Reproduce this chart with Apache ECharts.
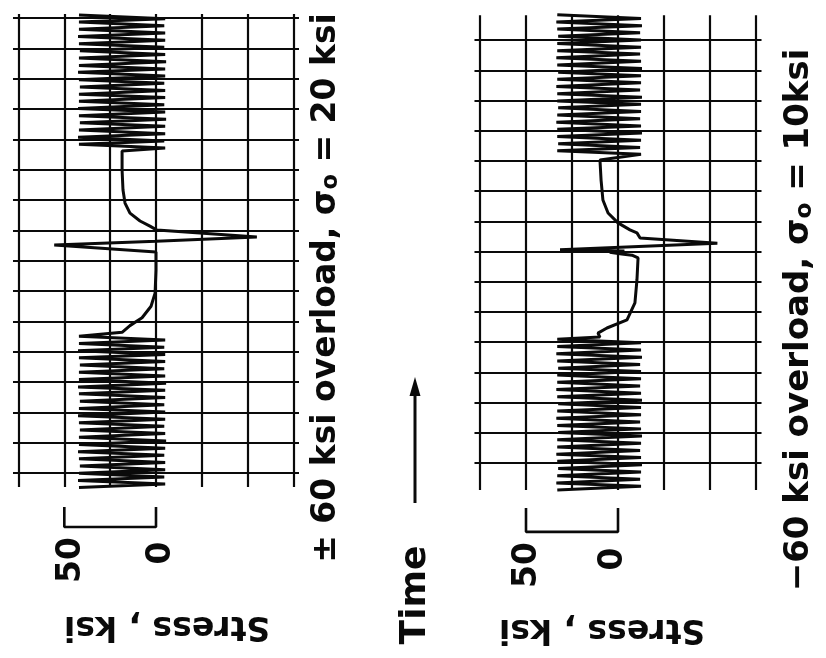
<!DOCTYPE html>
<html>
<head>
<meta charset="utf-8">
<title>Stress history, overload</title>
<script src="https://cdn.jsdelivr.net/npm/echarts@6/dist/echarts.min.js"></script>
<style>
  * { margin: 0; padding: 0; }
  body { background: #fff; }
  #chart { width: 826px; height: 658px; }
</style>
</head>
<body>
<div id="chart"></div>
<script>
// stress in ksi, time in chart divisions (counted upward)
const stressTicks = [-75, -50, -25, 0, 25, 50, 75];
const topRows = [0, 1, 2, 3, 4, 5, 6, 7, 8, 9, 10, 11, 12, 13, 14, 15];
const bottomRows = [0, 1, 2, 3, 4, 5, 6, 7, 8, 9, 10, 11, 12, 13, 14];

// top: +-60 ksi overload, sigma_o = 20 ksi
const topBeforeTime = [-0.48, -0.36, -0.25, -0.13, -0.01, 0.11, 0.23, 0.35, 0.47, 0.59, 0.70, 0.82, 0.94, 1.06, 1.18, 1.30, 1.42, 1.54, 1.66, 1.77, 1.89, 2.01, 2.13, 2.25, 2.37, 2.49, 2.61, 2.73, 2.84, 2.96, 3.08, 3.20, 3.32, 3.44, 3.56, 3.68, 3.80, 3.91, 4.03, 4.15, 4.27, 4.39, 4.51];
const topBeforeStress = [42, -5, 42.5, -4.5, 42, -5, 41.5, -5, 42, -4.5, 42.5, -5, 42, -5.5, 42, -5, 41.5, -4.5, 42, -5, 42.5, -5, 42, -4.5, 41.5, -5, 42, -5, 42.5, -5.5, 42, -5, 42, -4.5, 41.5, -5, 42, -5, 42.5, -4.5, 42, -5, 42];
const topOverloadTime = [4.64, 4.86, 5.12, 5.50, 5.93, 6.69, 7.29, 7.52, 7.64, 7.78, 8.01, 8.14, 8.31, 8.57, 8.90, 9.33, 9.99, 10.62];
const topOverloadStress = [18.5, 14.2, 7.6, 2.7, 0.5, 0, 0, 55.5, 0, -55, -0.5, 3.3, 8.7, 14.2, 16.9, 18, 18.5, 18.5];
const topAfterTime = [10.72, 10.84, 10.95, 11.07, 11.19, 11.31, 11.43, 11.55, 11.66, 11.78, 11.90, 12.02, 12.14, 12.26, 12.38, 12.49, 12.61, 12.73, 12.85, 12.97, 13.09, 13.21, 13.32, 13.44, 13.56, 13.68, 13.80, 13.92, 14.04, 14.15, 14.27, 14.39, 14.51, 14.63, 14.75, 14.87, 14.98, 15.10];
const topAfterStress = [-5, 42, -4.5, 42.5, -5, 42, -5, 41.5, -5.5, 42, -5, 42.5, -4.5, 42, -5, 42, -5, 41.5, -4.5, 42, -5, 42.5, -5, 42, -5.5, 42, -5, 41.5, -4.5, 42, -5, 42.5, -5, 42, -4.5, 42, -5, 42];

// bottom: -60 ksi overload, sigma_o = 10 ksi
const bottomBeforeTime = [-0.89, -0.77, -0.66, -0.54, -0.42, -0.30, -0.18, -0.06, 0.06, 0.18, 0.29, 0.41, 0.53, 0.65, 0.77, 0.89, 1.01, 1.13, 1.24, 1.36, 1.48, 1.60, 1.72, 1.84, 1.96, 2.08, 2.19, 2.31, 2.43, 2.55, 2.67, 2.79, 2.91, 3.03, 3.14, 3.26, 3.38, 3.50, 3.62, 3.74, 3.86, 3.98, 4.10];
const bottomBeforeStress = [33, -12.5, 33.5, -12, 33, -12.5, 32.5, -13, 33, -12.5, 33.5, -12, 33, -12.5, 33, -13, 32.5, -12.5, 33, -12, 33.5, -12.5, 33, -12.5, 32.5, -13, 33, -12.5, 33.5, -12, 33, -12.5, 33, -12.5, 32.5, -12, 33, -13, 33.5, -12.5, 33, -12.5, 33];
const bottomOverloadTime = [4.17, 4.30, 4.47, 4.74, 5.30, 6.06, 6.79, 6.88, 6.92, 6.98, 7.02, 7.06, 7.28, 7.45, 7.62, 7.72, 7.95, 8.28, 8.71, 9.37, 10.03];
const bottomOverloadStress = [9.8, 10.9, 6.0, -4.9, -9.2, -10.3, -10.9, -7.6, -2.0, 4.5, -3.5, 31.5, -54, -12, -10.3, -6.5, 0, 5.4, 8.2, 9.2, 9.8];
const bottomAfterTime = [10.22, 10.34, 10.45, 10.57, 10.69, 10.81, 10.93, 11.05, 11.16, 11.28, 11.40, 11.52, 11.64, 11.76, 11.88, 11.99, 12.11, 12.23, 12.35, 12.47, 12.59, 12.71, 12.82, 12.94, 13.06, 13.18, 13.30, 13.42, 13.54, 13.65, 13.77, 13.89, 14.01, 14.13, 14.25, 14.37, 14.48, 14.60, 14.72, 14.84];
const bottomAfterStress = [-12.5, 33, -12, 32.5, -12.5, 33, -13, 33, -12.5, 33.5, -12, 33, -12.5, 32.5, -12.5, 33, -13, 33, -12, 33.5, -12.5, 33, -12.5, 32.5, -13, 33, -12.5, 33.5, -12, 33, -12.5, 33, -12.5, 32.5, -12, 33, -13, 33.5, -12.5, 33];

// 50 ksi scale bar under each record
const scaleBarStress = [50, 50, 0, 0];
const topScaleBarTime = [-1.12, -1.78, -1.78, -1.12];
const bottomScaleBarTime = [-1.49, -2.28, -2.28, -1.49];

const toPairs = (s, t) => s.map((v, i) => [v, t[i]]);

const topTrace = [].concat(
  toPairs(topBeforeStress, topBeforeTime),
  toPairs(topOverloadStress, topOverloadTime),
  toPairs(topAfterStress, topAfterTime)
);
const bottomTrace = [].concat(
  toPairs(bottomBeforeStress, bottomBeforeTime),
  toPairs(bottomOverloadStress, bottomOverloadTime),
  toPairs(bottomAfterStress, bottomAfterTime)
);

// chart paper rulings
function paperLines(tMin, tMax, rows) {
  const lines = [];
  stressTicks.forEach((s) => lines.push([{ coord: [s, tMin] }, { coord: [s, tMax] }]));
  rows.forEach((t) => lines.push([{ coord: [78, t] }, { coord: [-78, t] }]));
  return lines;
}

const ink = '#0a0a0a';
const font = 'DejaVu Sans';

function traceSeries(idx, data, lines) {
  return {
    type: 'line',
    xAxisIndex: idx,
    yAxisIndex: idx,
    data: data,
    symbol: 'none',
    clip: false,
    lineStyle: { color: ink, width: 3 },
    markLine: {
      silent: true,
      symbol: ['none', 'none'],
      label: { show: false },
      lineStyle: { color: ink, width: 2.2, type: 'solid' },
      data: lines,
    },
  };
}

function barSeries(idx, times) {
  return {
    type: 'line',
    xAxisIndex: idx,
    yAxisIndex: idx,
    data: toPairs(scaleBarStress, times),
    symbol: 'none',
    lineStyle: { color: ink, width: 2.6 },
  };
}

function label(text, x, y, rot, size) {
  return {
    type: 'text',
    x: x,
    y: y,
    rotation: rot,
    style: {
      text: text,
      fill: ink,
      font: 'bold ' + size + 'px "' + font + '"',
      align: 'center',
      verticalAlign: 'middle',
      rich: {
        sub: { fontSize: size * 0.68, fontWeight: 'bold', fontFamily: font, verticalAlign: 'bottom', lineHeight: size * 0.68 },
      },
    },
  };
}

const myChart = echarts.init(document.getElementById('chart'));

const option = {
  animation: false,
  backgroundColor: '#fff',
  grid: [
    { left: 9.33, top: 12, width: 293.33, height: 521.7 },
    { left: 470.8, top: 10, width: 294.4, height: 528.5 },
  ],
  xAxis: [
    { gridIndex: 0, type: 'value', min: -80, max: 80, inverse: true, show: false },
    { gridIndex: 1, type: 'value', min: -80, max: 80, inverse: true, show: false },
  ],
  yAxis: [
    { gridIndex: 0, type: 'value', min: -2, max: 15.2, show: false },
    { gridIndex: 1, type: 'value', min: -2.5, max: 15, show: false },
  ],
  series: [
    traceSeries(0, topTrace, paperLines(-0.46, 15.13, topRows)),
    barSeries(0, topScaleBarTime),
    traceSeries(1, bottomTrace, paperLines(-0.89, 14.83, bottomRows)),
    barSeries(1, bottomScaleBarTime),
  ],
  graphic: [
    label('± 60 ksi overload, σ{sub|o} = 20 ksi', 326, 288, Math.PI / 2, 33),
    label('−60 ksi overload, σ{sub|o} = 10ksi', 799, 320, Math.PI / 2, 34),
    label('Time', 416, 595, Math.PI / 2, 36),
    label('Stress , ksi', 167, 626, Math.PI, 33),
    label('Stress , ksi', 602, 629, Math.PI, 33),
    label('50', 71, 560, Math.PI / 2, 33),
    label('0', 161, 553, Math.PI / 2, 33),
    label('50', 527, 565, Math.PI / 2, 33),
    label('0', 613, 559, Math.PI / 2, 33),
    {
      type: 'line',
      shape: { x1: 415, y1: 503, x2: 415, y2: 392 },
      style: { stroke: ink, lineWidth: 3 },
    },
    {
      type: 'polygon',
      shape: { points: [[415, 377], [409.5, 396], [420.5, 396]] },
      style: { fill: ink },
    },
  ],
};

myChart.setOption(option);
</script>
</body>
</html>
